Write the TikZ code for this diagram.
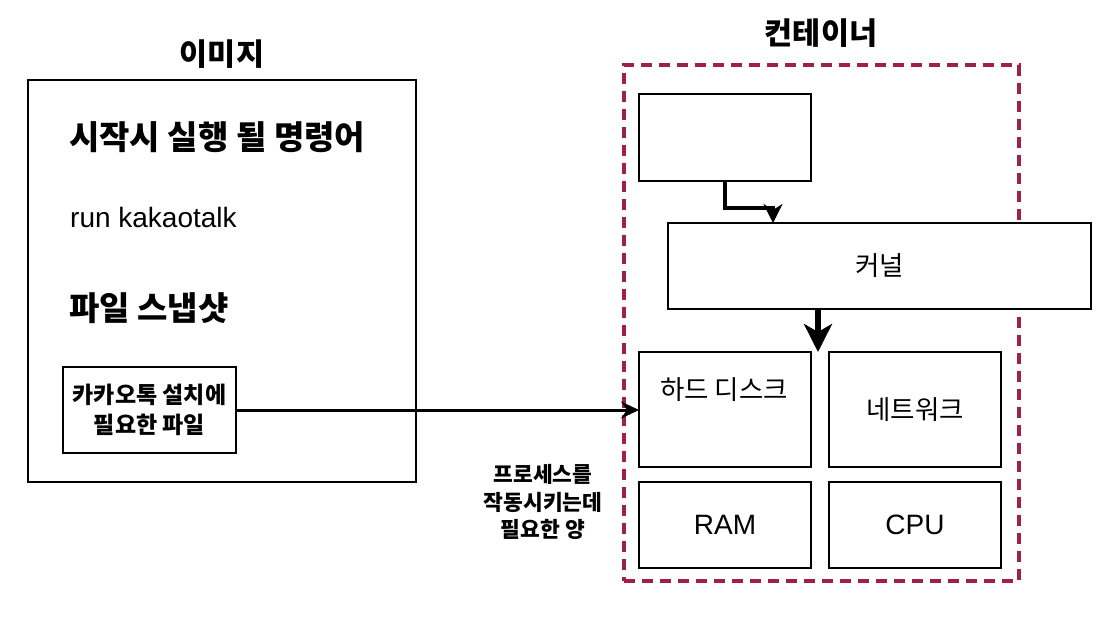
\documentclass[tikz,border=0pt]{standalone}
\usepackage{fontspec}
\setmainfont{Liberation Sans}
\newfontfamily\kr{Noto Sans CJK KR}
\usetikzlibrary{arrows.meta}
\definecolor{crimsonc}{RGB}{160,32,72}
\begin{document}
\begin{tikzpicture}[x=1pt,y=-1pt,
  box/.style={draw=black,line width=1.4pt,fill=white,inner sep=0pt,outer sep=0pt},
  krbig/.style={font=\kr\bfseries\fontsize{30.5}{34}\selectfont},
  krhead/.style={font=\kr\bfseries\fontsize{33}{37}\selectfont},
  krmid/.style={font=\kr\fontsize{26.5}{30}\selectfont},
  latin/.style={font=\fontsize{28}{32}\selectfont},
  conn/.style={draw=black,line width=3pt}]
\useasboundingbox[fill=white] (0,0) rectangle (1112,622);

% left image box
\node[box,minimum width=388pt,minimum height=402pt] (img) at (222,281) {};
\node[krbig,inner sep=0pt] (imgtitle) at (222,54) {이미지};
\node[krhead,anchor=west,inner sep=0pt] (cmdhead) at (69,137) {시작시 실행 될 명령어};
\node[latin,anchor=west,inner sep=0pt] (cmd) at (70,217) {run kakaotalk};
\node[krhead,anchor=west,inner sep=0pt] (snaphead) at (69,308) {파일 스냅샷};
\node[box,minimum width=173pt,minimum height=86pt,align=center,
      font=\kr\bfseries\fontsize{23}{29.5}\selectfont] (files) at (149.5,410) {카카오톡 설치에\\필요한 파일};

% container
\node[draw=crimsonc,line width=3.2pt,dash pattern=on 11pt off 7pt,
      minimum width=395pt,minimum height=516pt,inner sep=0pt] (cont) at (821.5,323) {};
\node[krbig,inner sep=0pt] (conttitle) at (821,33) {컨테이너};
\node[box,minimum width=172pt,minimum height=87pt] (top) at (725,137.5) {};
\node[box,minimum width=423pt,minimum height=86pt,krmid] (kernel) at (879.5,266) {커널};
\node[box,minimum width=172pt,minimum height=115pt] (hdd) at (725,409.5) {};
\node[krmid,inner sep=0pt] (hddlabel) at (724,390) {하드 디스크};
\node[box,minimum width=172pt,minimum height=115pt,krmid] (net) at (915,409.5) {네트워크};
\node[box,minimum width=172pt,minimum height=86pt,latin] (ram) at (725,525) {RAM};
\node[box,minimum width=172pt,minimum height=86pt,latin] (cpu) at (915,525) {CPU};

% label
\node[align=center,font=\kr\bfseries\fontsize{21.5}{27.5}\selectfont,inner sep=0pt] (amount) at (543,502)
  {프로세스를\\작동시키는데\\필요한 양};

% connectors
\coordinate (kin) at (773,223);
\coordinate (kout) at (818,309);
\coordinate (hin) at (818,352);
\draw[conn,line width=3.4pt,-{Stealth[length=19pt,width=19pt,inset=6pt]}] (top.south) -- ++(0,27) -| (kin);
\draw[conn,line width=5.5pt,-{Stealth[length=28pt,width=28pt,inset=8pt]}] (kout) -- (hin);
\draw[conn,-{Stealth[length=18pt,width=17pt,inset=6pt]}] (files.east) -- (files.east -| hdd.west);
\end{tikzpicture}
\end{document}
